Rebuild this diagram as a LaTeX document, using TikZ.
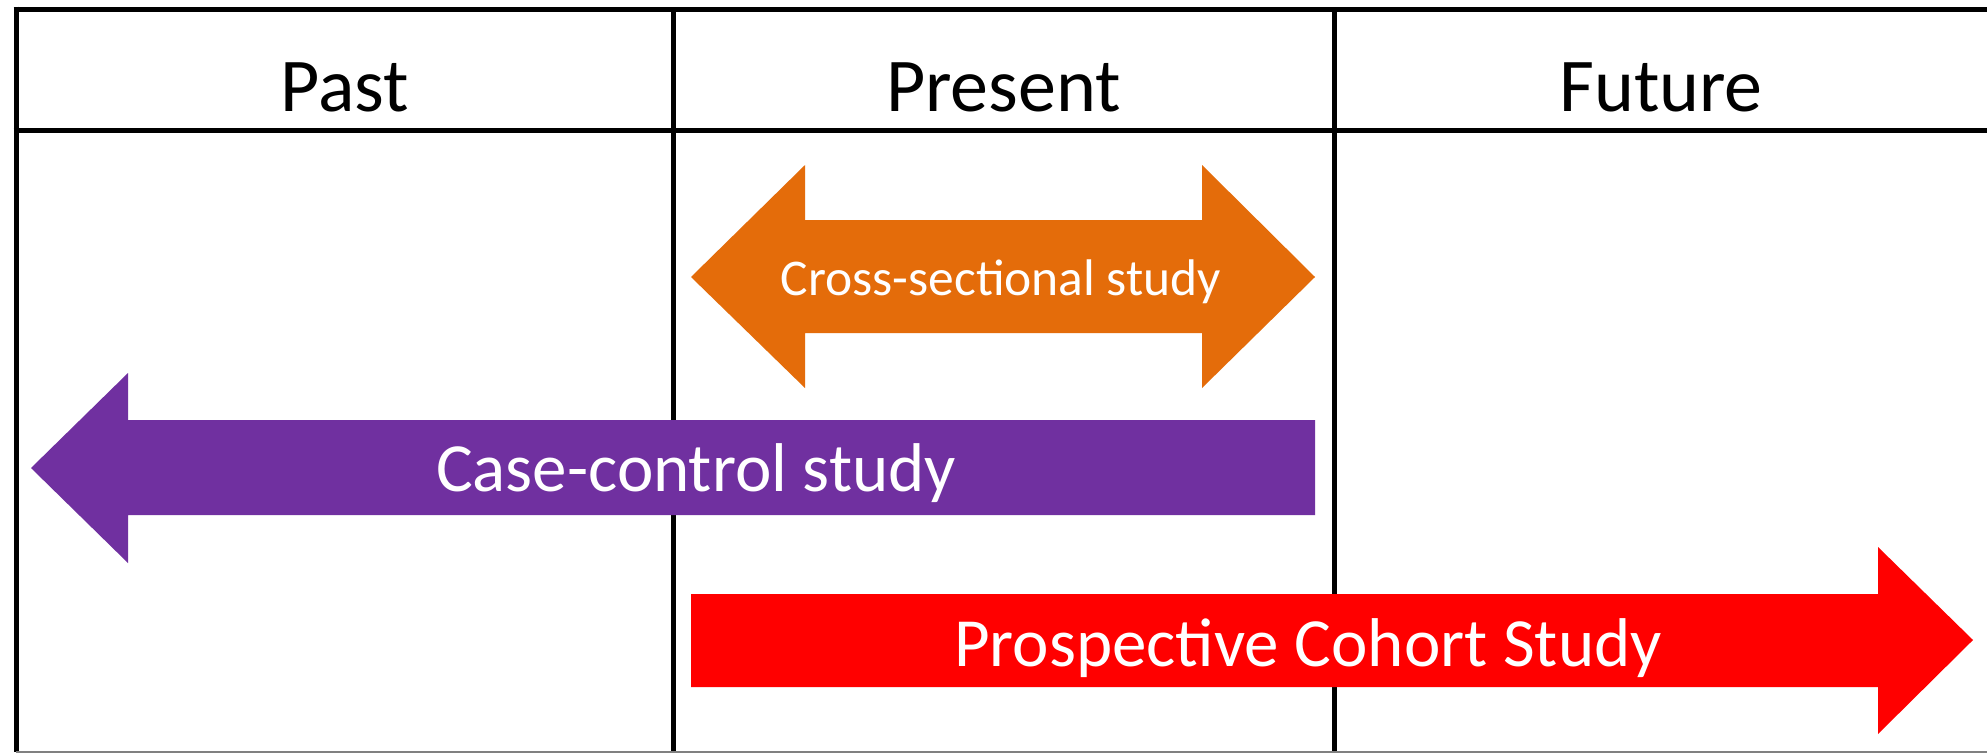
\documentclass[tikz,border=0pt]{standalone}
\usepackage{fontspec}
\setmainfont{Carlito}
\definecolor{crossorange}{HTML}{E46C0A}
\definecolor{casepurple}{HTML}{7030A0}
\definecolor{cohortred}{HTML}{FF0000}
\begin{document}
\begin{tikzpicture}[x=1pt,y=-1pt,
  gridline/.style={line width=5pt,black},
  headtext/.style={anchor=base,inner sep=0pt,font=\fontsize{76}{82}\selectfont},
  arrowtext/.style={anchor=base,inner sep=0pt,text=white},
]
\useasboundingbox (0,0) rectangle (1987,753);
\fill[white] (0,0) rectangle (1987,753);
% table grid
\draw[gridline] (13.5,9) -- (1990,9);
\draw[gridline] (13.5,130) -- (1990,130);
\draw[gridline] (16,6.5) -- (16,752);
\draw[gridline] (673,9) -- (673,752);
\draw[gridline] (1334,9) -- (1334,752);
\draw[line width=2pt,gray] (16,751.5) -- (1990,751.5);
% headers
\node[headtext] (past) at (345,111) {Past};
\node[headtext] (present) at (1003.5,111) {Present};
\node[headtext] (future) at (1661,111) {Future};
% cross-sectional double arrow
\fill[crossorange] (691,277) -- (805,165) -- (805,220) -- (1202,220) -- (1202,165)
  -- (1315,277) -- (1202,388) -- (1202,333) -- (805,333) -- (805,388) -- cycle;
\node[arrowtext,font=\fontsize{51.5}{56}\selectfont] (cross) at (1001,295) {Cross-sectional study};
% case-control arrow
\fill[casepurple] (31,468) -- (128,373) -- (128,420) -- (1315,420) -- (1315,515)
  -- (128,515) -- (128,563) -- cycle;
\node[arrowtext,font=\fontsize{69}{74}\selectfont] (casecontrol) at (696,491) {Case-control study};
% prospective cohort arrow
\fill[cohortred] (691,594) -- (1878,594) -- (1878,547) -- (1973,640) -- (1878,734)
  -- (1878,687) -- (691,687) -- cycle;
\node[arrowtext,font=\fontsize{69}{74}\selectfont] (cohort) at (1308,666) {Prospective Cohort Study};
\end{tikzpicture}
\end{document}
